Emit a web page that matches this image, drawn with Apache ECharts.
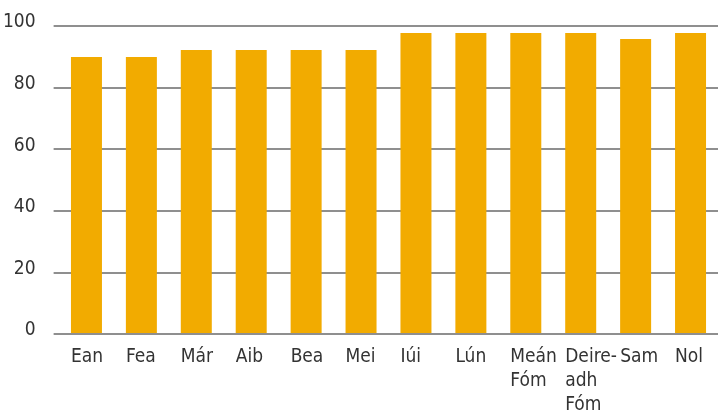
<!DOCTYPE html>
<html>
<head>
<meta charset="utf-8">
<script src="https://cdn.jsdelivr.net/npm/echarts@6/dist/echarts.min.js"></script>
<style>
  html, body { margin: 0; padding: 0; background: #fff; }
  #chart { width: 718px; height: 417px; }
</style>
</head>
<body>
<div id="chart"></div>
<script>
// month labels (Irish)
var months = ['Ean', 'Fea', 'Már', 'Aib', 'Bea', 'Mei', 'Iúi', 'Lún', 'Meán\nFóm', 'Deire-\nadh\nFóm', 'Sam', 'Nol'];
var values = [89.9, 89.9, 92.2, 92.2, 92.2, 92.2, 97.7, 97.7, 97.7, 97.7, 95.8, 97.7];
var yTicks = [0, 20, 40, 60, 80, 100];

var font = "'Liberation Sans Narrow', 'DejaVu Sans Condensed', 'Roboto Condensed', sans-serif";
var mychart = echarts.init(document.getElementById('chart'));

var option = {
  animation: false,
  grid: [
    {left: 53, right: 0, top: 26, bottom: 83},   // gridlines + y labels
    {left: 59, right: -1, top: 26, bottom: 83}   // bars + month labels
  ],
  xAxis: [
    {gridIndex: 0, type: 'category', data: months, show: false},
    {
      gridIndex: 1,
      type: 'category',
      data: months,
      axisLine: {show: false},
      axisTick: {show: false},
      axisLabel: {
        interval: 0,
        margin: 12,
        color: '#333',
        fontFamily: font,
        fontSize: 19,
        lineHeight: 24,
        formatter: function (v) {
          return v.split('\n').map(function (s) { return '{a|' + s + '}'; }).join('\n');
        },
        rich: {
          a: {width: 31, align: 'left', color: '#333', fontFamily: font, fontSize: 19, lineHeight: 24}
        }
      }
    }
  ],
  yAxis: [
    {
      gridIndex: 0,
      type: 'value',
      min: yTicks[0],
      max: yTicks[yTicks.length - 1],
      interval: 20,
      axisLine: {show: false},
      axisTick: {show: false},
      axisLabel: {
        margin: 18,
        color: '#333',
        fontFamily: font,
        fontSize: 19,
        verticalAlign: 'bottom',
        lineHeight: 7
      },
      splitLine: {lineStyle: {color: '#6a6a6a', width: 1.5}}
    },
    {gridIndex: 1, type: 'value', min: 0, max: 100, show: false}
  ],
  series: [
    {
      type: 'bar',
      xAxisIndex: 1,
      yAxisIndex: 1,
      data: values,
      barWidth: 31,
      itemStyle: {color: '#F2AB00'}
    }
  ]
};

mychart.setOption(option);
</script>
</body>
</html>
